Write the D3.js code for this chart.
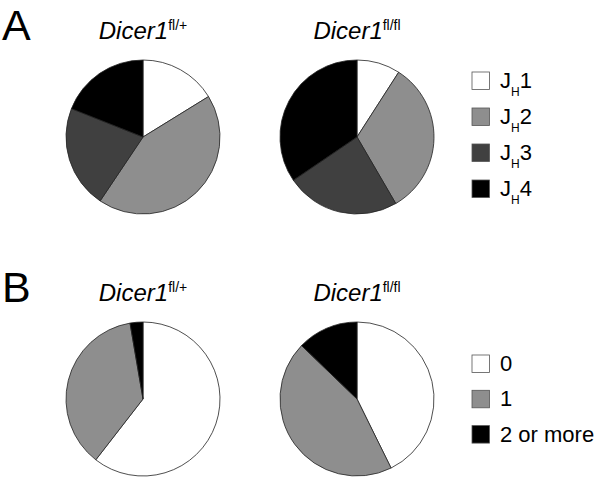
<!DOCTYPE html>
<html>
<head>
<meta charset="utf-8">
<script src="https://cdn.jsdelivr.net/npm/d3@7"></script>
<style>
  body { margin: 0; background: #fff; }
  svg { display: block; font-family: "Liberation Sans", Arial, sans-serif; }
</style>
</head>
<body>
<script>
// J_H usage (percent of clones)
var jhLabels = ["1", "2", "3", "4"];
var jhFlPlus = [16.2, 43.2, 21.6, 19.0];
var jhFlFl = [9.1, 32.5, 23.9, 34.5];
var jhColors = ["#ffffff", "#8e8e8e", "#404040", "#000000"];

// number of mutations (percent of clones)
var mutLabels = ["0", "1", "2 or more"];
var mutFlPlus = [60.5, 36.8, 2.7];
var mutFlFl = [42.7, 44.5, 12.8];
var mutColors = ["#ffffff", "#8e8e8e", "#000000"];

var genotypes = ["fl/+", "fl/fl"];

var width = 600,
    height = 477,
    radius = 77;

var svg = d3.select("body")
    .append("svg")
    .attr("width", width)
    .attr("height", height);

// pie columns
var xPie = d3.scalePoint()
    .domain(genotypes)
    .range([143, 357]);

var pie = d3.pie()
    .sort(null)
    .value(function(d){ return d; });

var arc = d3.arc()
    .innerRadius(0)
    .outerRadius(radius);

function drawPanel(letter, top, sets, colors, labels, legendTop, legendStep, jh){
    //panel letter
    svg.append("text")
        .attr("x", 2)
        .attr("y", top + 40)
        .attr("font-size", 43)
        .text(letter);

    var color = d3.scaleOrdinal()
        .domain(d3.range(labels.length))
        .range(colors);

    sets.forEach(function(values, i){
        var g = genotypes[i];
        var cx = xPie(g);

        //title, e.g. Dicer1 fl/+
        var title = svg.append("text")
            .attr("x", cx)
            .attr("y", top + 38.5)
            .attr("text-anchor", "middle")
            .attr("font-size", 24);
        title.append("tspan")
            .attr("font-style", "italic")
            .text("Dicer1");
        title.append("tspan")
            .attr("font-size", 14)
            .attr("dy", -9)
            .text(g);

        var pieG = svg.append("g")
            .attr("transform", "translate(" + cx + "," + (top + 137) + ")");

        pieG.selectAll("path")
            .data(pie(values))
            .enter()
            .append("path")
            .attr("d", arc)
            .attr("fill", function(d, k){ return color(k); })
            .attr("stroke", "#222")
            .attr("stroke-width", 0.8);
    });

    //legend
    var yLeg = d3.scaleLinear()
        .domain([0, 1])
        .range([legendTop, legendTop + legendStep]);

    var rows = svg.selectAll(".leg" + letter)
        .data(labels)
        .enter()
        .append("g")
        .attr("class", "leg" + letter)
        .attr("transform", function(d, k){ return "translate(472," + yLeg(k) + ")"; });

    rows.append("rect")
        .attr("width", 17.5)
        .attr("height", 17.5)
        .attr("fill", function(d, k){ return color(k); })
        .attr("stroke", "#555")
        .attr("stroke-width", 0.8);

    var txt = rows.append("text")
        .attr("x", 28)
        .attr("y", 16)
        .attr("font-size", 22);

    if (jh) {
        txt.append("tspan").text("J");
        txt.append("tspan")
            .attr("font-size", 12)
            .attr("dy", 8)
            .text("H");
        txt.append("tspan")
            .attr("dy", -8)
            .text(function(d){ return d; });
    } else {
        txt.text(function(d){ return d; });
    }
}

drawPanel("A", 0, [jhFlPlus, jhFlFl], jhColors, jhLabels, 72, 36, true);
drawPanel("B", 262, [mutFlPlus, mutFlFl], mutColors, mutLabels, 355, 35.3, false);
</script>
</body>
</html>
